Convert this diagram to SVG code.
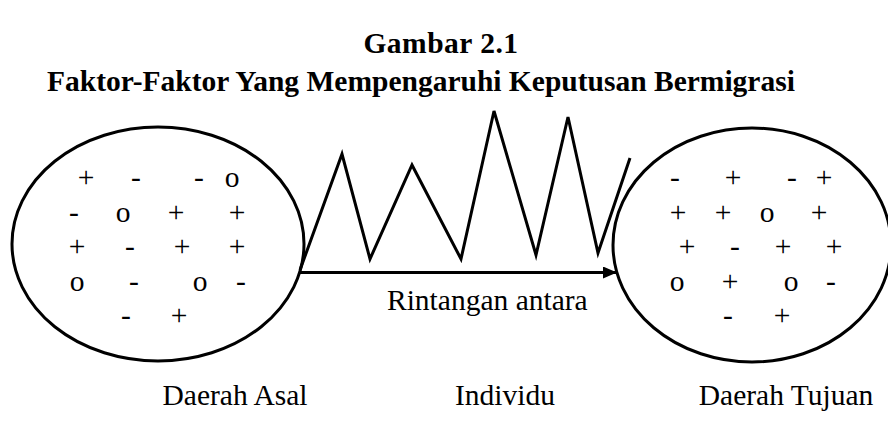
<svg xmlns="http://www.w3.org/2000/svg" width="888" height="433" viewBox="0 0 888 433">
<style>
.t{font-family:"Liberation Serif","Times New Roman",serif;font-size:29.5px;fill:#000}
.b{font-weight:bold}
.s{font-family:"Liberation Serif","Times New Roman",serif;font-size:29.5px;fill:#000;text-anchor:middle}
.e{fill:none;stroke:#000;stroke-width:3}
</style>
<defs>
<marker id="ah" markerWidth="14" markerHeight="12" refX="13" refY="6" orient="auto" markerUnits="userSpaceOnUse">
<path d="M0,0 L14,6 L0,12 Z" fill="#000"/>
</marker>
</defs>
<rect width="888" height="433" fill="#fff"/>
<text class="t b" x="441" y="53" text-anchor="middle" font-size="24" letter-spacing="0.5">Gambar 2.1</text>
<text class="t b" x="47" y="91" font-size="28.2">Faktor-Faktor Yang Mempengaruhi Keputusan Bermigrasi</text>
<g id="daerah-asal">
<ellipse class="e" cx="158" cy="244" rx="146" ry="117"/>
<text class="s" x="86" y="187">+</text><text class="s" x="136" y="187">-</text><text class="s" x="199" y="187">-</text><text class="s" x="232" y="187">o</text>
<text class="s" x="74" y="222">-</text><text class="s" x="123" y="222">o</text><text class="s" x="176" y="222">+</text><text class="s" x="237" y="222">+</text>
<text class="s" x="77" y="256">+</text><text class="s" x="130" y="256">-</text><text class="s" x="182" y="256">+</text><text class="s" x="237" y="256">+</text>
<text class="s" x="77" y="291">o</text><text class="s" x="134" y="291">-</text><text class="s" x="200" y="291">o</text><text class="s" x="241" y="291">-</text>
<text class="s" x="126" y="325">-</text><text class="s" x="179" y="325">+</text>
</g>
<g id="daerah-tujuan">
<ellipse class="e" cx="752" cy="245" rx="139" ry="117"/>
<text class="s" x="675" y="187">-</text><text class="s" x="733" y="187">+</text><text class="s" x="792" y="187">-</text><text class="s" x="824" y="187">+</text>
<text class="s" x="678" y="222">+</text><text class="s" x="723" y="222">+</text><text class="s" x="767" y="222">o</text><text class="s" x="819" y="222">+</text>
<text class="s" x="687" y="256">+</text><text class="s" x="735" y="256">-</text><text class="s" x="783" y="256">+</text><text class="s" x="834" y="256">+</text>
<text class="s" x="677" y="291">o</text><text class="s" x="730" y="291">+</text><text class="s" x="791" y="291">o</text><text class="s" x="831" y="291">-</text>
<text class="s" x="728" y="325">-</text><text class="s" x="782" y="325">+</text>
</g>
<g id="rintangan">
<polyline class="e" points="300,270 342,154 370,259 412,165 461,259 494,111 536,255 568,117 598,253 630,158"/>
<text class="t" x="387" y="310">Rintangan antara</text>
</g>
<g id="connectors">
<line x1="300" y1="272.5" x2="616" y2="272.5" stroke="#000" stroke-width="3" marker-end="url(#ah)"/>
</g>
<g id="labels">
<text class="s" x="235" y="405">Daerah Asal</text>
<text class="s" x="505" y="405">Individu</text>
<text class="s" x="786" y="405">Daerah Tujuan</text>
</g>
</svg>
